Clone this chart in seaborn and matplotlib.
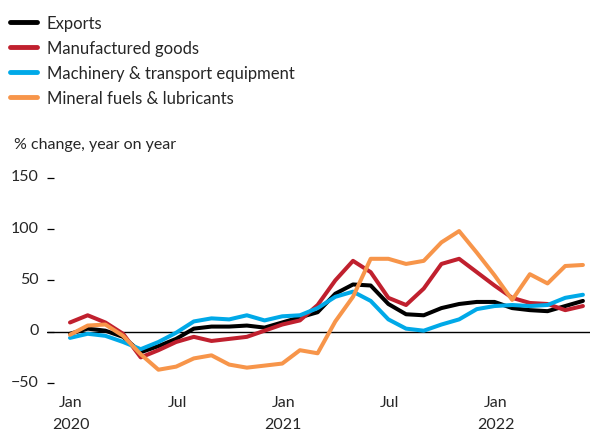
import matplotlib
matplotlib.use("Agg")
import matplotlib.pyplot as plt
from matplotlib.transforms import ScaledTranslation
import seaborn as sns
import pandas as pd
import numpy as np

# Months Jan 2020 .. Jun 2022
months = pd.date_range("2020-01-01", "2022-06-01", freq="MS")

exports = [-2, 3, 1, -5, -20, -14, -7, 3, 5, 5, 6, 4, 9, 14, 19, 37, 46, 45, 27, 17,
           16, 23, 27, 29, 29, 23, 21, 20, 25, 30]
manufactured = [9, 16, 9, -2, -25, -18, -10, -5, -9, -7, -5, 1, 7, 11, 26, 50, 69, 58, 33, 26,
                42, 66, 71, 58, 45, 33, 28, 27, 21, 25]
machinery = [-6, -2, -4, -10, -17, -10, -1, 10, 13, 12, 16, 11, 15, 16, 23, 34, 39, 30, 12, 3,
             1, 7, 12, 22, 25, 26, 25, 26, 33, 36]
fuels = [-3, 6, 7, -4, -22, -37, -34, -26, -23, -32, -35, -33, -31, -18, -21, 10, 34, 71, 71, 66,
         69, 87, 98, 77, 55, 31, 56, 47, 64, 65]

series_names = ["Exports", "Manufactured goods", "Machinery & transport equipment",
                "Mineral fuels & lubricants"]
colors = ["#000000", "#c0202e", "#00a9e8", "#f7954a"]

tick_months = [0, 6, 12, 18, 24]
tick_labels = ["Jan\n2020", "Jul", "Jan\n2021", "Jul", "Jan\n2022"]
y_ticks = [-50, 0, 50, 100, 150]
y_labels = ["−50", "0", "50", "100", "150"]

idx = np.arange(len(months))
df = pd.concat([
    pd.DataFrame({"month": idx, "value": vals, "series": name})
    for name, vals in zip(series_names, [exports, manufactured, machinery, fuels])
])

sns.set_theme(style="white")
plt.rcParams["font.family"] = ["Lato", "DejaVu Sans"]

fig = plt.figure(figsize=(6.0, 4.31), dpi=100)
ax = fig.add_axes([47/600, 1-389.2/431, (590-47)/600, (389.2-168.4)/431])

ax.axhline(0, color="black", lw=1.0, zorder=1)
sns.lineplot(data=df, x="month", y="value", hue="series", hue_order=series_names,
             palette=colors, lw=2.9, ax=ax, zorder=3)

ax.set_xlim(-1.3, 29.4)
ax.set_ylim(-55, 160)
for s in ax.spines.values():
    s.set_visible(False)
ax.set_xlabel("")
ax.set_ylabel("")
ax.set_xticks(tick_months)
ax.set_xticklabels(tick_labels, fontsize=11.5, linespacing=1.75)
ax.set_yticks(y_ticks)
ax.set_yticklabels(y_labels, fontsize=11.5)
ax.tick_params(axis="y", left=True, direction="in", length=5, width=0.9, color="black", pad=6)
ax.tick_params(axis="x", bottom=False, length=0, pad=5)
for lab in ax.get_yticklabels():
    lab.set_transform(lab.get_transform() + ScaledTranslation(0, 3/100, fig.dpi_scale_trans))
for lab in ax.get_xticklabels():
    lab.set_transform(lab.get_transform() + ScaledTranslation(1/100, 0, fig.dpi_scale_trans))

handles, labels = ax.get_legend_handles_labels()
ax.get_legend().remove()
leg = fig.legend(handles, labels, loc="upper left", bbox_to_anchor=(10/600, 1-16/431),
                 frameon=False, fontsize=12, handlelength=1.62, handletextpad=0.6,
                 labelspacing=0.53, borderpad=0, borderaxespad=0)
for h in leg.get_lines():
    h.set_linewidth(3.5)

fig.text(14/600, 1-145/431, "% change, year on year", fontsize=11.5, va="center", ha="left")

fig.savefig("out.png", dpi=100)
